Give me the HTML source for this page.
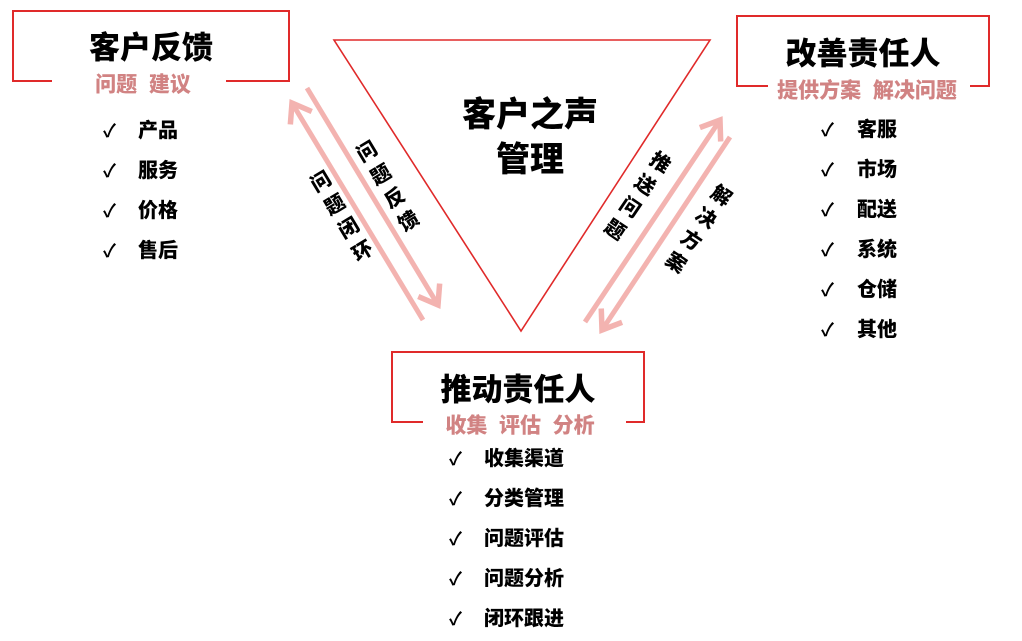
<!DOCTYPE html>
<html><head><meta charset="utf-8"><style>
html,body{margin:0;padding:0;background:#fff;}
body{width:1022px;height:641px;position:relative;overflow:hidden;font-family:"Liberation Sans","Noto Sans CJK SC",sans-serif;}
.t{position:absolute;font-weight:900;color:#000;white-space:nowrap;transform:translate(-50%,-50%);line-height:1;}
.sub{position:absolute;font-weight:900;color:#d18383;white-space:nowrap;transform:translate(-50%,-50%);line-height:1;font-size:21px;background:#fff;padding:0 6px;}
.li{position:absolute;font-size:20px;font-weight:900;line-height:1;transform:translateY(-50%);white-space:nowrap;}
.ck{position:absolute;font-size:18px;font-weight:bold;line-height:1;transform:translateY(-50%);}
.d{font-size:20px;letter-spacing:7px;writing-mode:vertical-rl;text-orientation:upright;}
</style></head><body>
<svg width="1022" height="641" style="position:absolute;left:0;top:0">
<defs>
<marker id="a" markerWidth="6" markerHeight="6" refX="4" refY="3" orient="auto" markerUnits="strokeWidth">
<path d="M0.5,0.5 L4,3 L0.5,5.5" fill="none" stroke="#f3b3b0" stroke-width="1.1"/></marker>
</defs>
<g fill="none" stroke="#e02a2a" stroke-width="2">
<polygon points="334,40 710,40 521,331" stroke-width="1.6"/>
<polyline points="52,81 13,81 13,11 289,11 289,81 226,81"/>
<polyline points="768,86 737,86 737,16 989,16 989,86 970,86"/>
<polyline points="423,422 392,422 392,352 644,352 644,422 626,422"/>
</g>
<g stroke="#f3b3b0" stroke-width="5" fill="none">
<line x1="307" y1="88" x2="438" y2="305" marker-end="url(#a)"/>
<line x1="423" y1="320" x2="292" y2="103" marker-end="url(#a)"/>
<line x1="585" y1="322" x2="720" y2="120" marker-end="url(#a)"/>
<line x1="730" y1="137" x2="602" y2="330" marker-end="url(#a)"/>
</g>
</svg>
<div class="t" style="left:151px;top:48px;font-size:31px">客户反馈</div>
<div class="sub" style="left:143px;top:85px">问题&nbsp;&nbsp;建议</div>
<div class="t" style="left:863px;top:54px;font-size:31px">改善责任人</div>
<div class="sub" style="left:867px;top:91px">提供方案&nbsp;&nbsp;解决问题</div>
<div class="t" style="left:518px;top:390px;font-size:31px">推动责任人</div>
<div class="sub" style="left:520px;top:426px">收集&nbsp;&nbsp;评估&nbsp;&nbsp;分析</div>
<div class="t" style="left:530px;top:115px;font-size:34px">客户之声</div>
<div class="t" style="left:530px;top:160px;font-size:34px">管理</div>
<div class="t d" style="left:387px;top:190px;transform:translate(-50%,-50%) rotate(-31deg)">问题反馈</div>
<div class="t d" style="left:341px;top:220px;transform:translate(-50%,-50%) rotate(-31deg)">问题闭环</div>
<div class="t d" style="left:634px;top:197px;transform:translate(-50%,-50%) rotate(34deg)">推送问题</div>
<div class="t d" style="left:695px;top:230px;transform:translate(-50%,-50%) rotate(34deg)">解决方案</div>

<div class="ck" style="left:103px;top:131px">✓</div><div class="li" style="left:138px;top:131px">产品</div>
<div class="ck" style="left:103px;top:171px">✓</div><div class="li" style="left:138px;top:171px">服务</div>
<div class="ck" style="left:103px;top:211px">✓</div><div class="li" style="left:138px;top:211px">价格</div>
<div class="ck" style="left:103px;top:251px">✓</div><div class="li" style="left:138px;top:251px">售后</div>

<div class="ck" style="left:821px;top:130px">✓</div><div class="li" style="left:857px;top:130px">客服</div>
<div class="ck" style="left:821px;top:170px">✓</div><div class="li" style="left:857px;top:170px">市场</div>
<div class="ck" style="left:821px;top:210px">✓</div><div class="li" style="left:857px;top:210px">配送</div>
<div class="ck" style="left:821px;top:250px">✓</div><div class="li" style="left:857px;top:250px">系统</div>
<div class="ck" style="left:821px;top:290px">✓</div><div class="li" style="left:857px;top:290px">仓储</div>
<div class="ck" style="left:821px;top:330px">✓</div><div class="li" style="left:857px;top:330px">其他</div>

<div class="ck" style="left:449px;top:459px">✓</div><div class="li" style="left:484px;top:459px">收集渠道</div>
<div class="ck" style="left:449px;top:499px">✓</div><div class="li" style="left:484px;top:499px">分类管理</div>
<div class="ck" style="left:449px;top:539px">✓</div><div class="li" style="left:484px;top:539px">问题评估</div>
<div class="ck" style="left:449px;top:579px">✓</div><div class="li" style="left:484px;top:579px">问题分析</div>
<div class="ck" style="left:449px;top:619px">✓</div><div class="li" style="left:484px;top:619px">闭环跟进</div>
</body></html>
